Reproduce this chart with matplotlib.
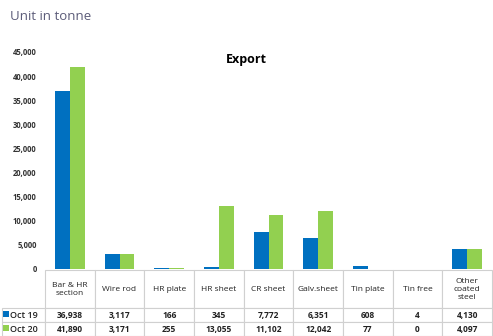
import matplotlib.pyplot as plt
from matplotlib.patches import Rectangle

categories = ["Bar & HR\nsection", "Wire rod", "HR plate", "HR sheet", "CR sheet",
              "Galv.sheet", "Tin plate", "Tin free", "Other\ncoated\nsteel"]
oct19 = [36938, 3117, 166, 345, 7772, 6351, 608, 4, 4130]
oct20 = [41890, 3171, 255, 13055, 11102, 12042, 77, 0, 4097]
series_labels = ["Oct 19", "Oct 20"]
yticks = list(range(0, 45001, 5000))

blue = "#0070C0"
green = "#92D050"
font = "Open Sans"

W, H = 493, 336
fig = plt.figure(figsize=(W / 100, H / 100), dpi=100)
ax = fig.add_axes([45 / W, 67 / H, 447 / W, 217 / H])

x = list(range(len(categories)))
ax.bar([i - 0.15 for i in x], oct19, width=0.3, color=blue)
ax.bar([i + 0.15 for i in x], oct20, width=0.3, color=green)
ax.set_xlim(-0.5, len(categories) - 0.5)
ax.set_ylim(0, 45000)
ax.set_yticks(yticks)
ax.set_yticklabels([f"{v:,}" for v in yticks], fontsize=5.5, fontweight="bold",
                   family=font, color="#333333")
ax.tick_params(axis="y", length=0, pad=6)
ax.set_xticks([])
for s in ax.spines.values():
    s.set_visible(False)

# data table below the plot
def fmt(v):
    return f"{v:,}"

cell_text = [[lab] + [fmt(v) for v in vals]
             for lab, vals in zip(series_labels, [oct19, oct20])]
col_labels = [""] + categories
tbl = ax.table(cellText=cell_text, colLabels=col_labels,
               colWidths=[43] + [49.67] * len(categories),
               cellLoc="center",
               bbox=[-43 / 447, -67 / 217, 490 / 447, 66 / 217])
tbl.auto_set_font_size(False)
for (r, c), cell in tbl.get_celld().items():
    cell.set_edgecolor("#d0d0d0")
    cell.set_linewidth(0.8)
    cell.set_height(39 if r == 0 else 14)
    cell.get_text().set_fontsize(6)
    cell.get_text().set_family(font)
    cell.get_text().set_color("#222222")
    if r > 0:
        cell.get_text().set_fontweight("bold")
    if r == 0 and c == 0:
        cell.set_linewidth(0)
    if r > 0 and c == 0:
        cell._loc = "left"
        cell.PAD = 0.24
        cell.get_text().set_fontweight("semibold")
        cell.get_text().set_fontsize(6.5)

for i, col in enumerate([blue, green]):
    y0 = 1 - (311 + i * 14 + 6) / H
    fig.patches.append(Rectangle((3 / W, y0), 6 / W, 6 / H, transform=fig.transFigure,
                                 facecolor=col, edgecolor="none"))

fig.text(246 / W, 1 - 60 / H, "Export", fontsize=9, fontweight="bold",
         ha="center", va="center", family=font)
fig.text(10 / W, 1 - 17 / H, "Unit in tonne", fontsize=9.5, color="#5b5b78",
         ha="left", va="center", family=font)

fig.savefig("out.png", dpi=100)
